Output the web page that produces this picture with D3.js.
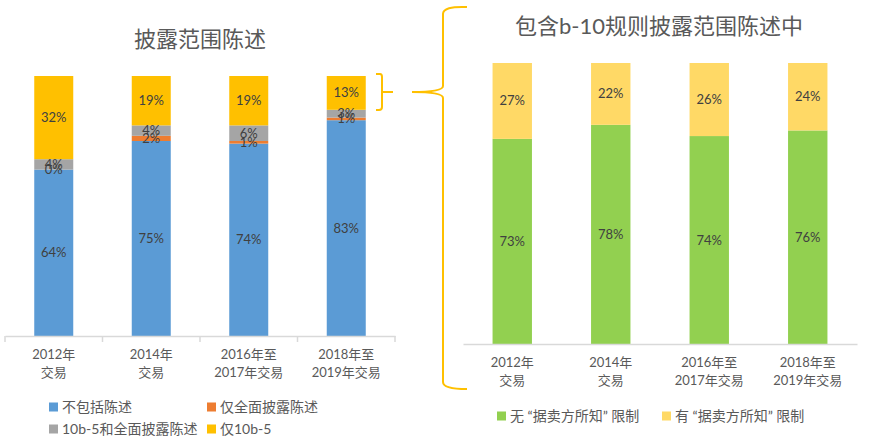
<!DOCTYPE html>
<html lang="zh">
<head>
<meta charset="UTF-8">
<title>披露范围陈述</title>
<script src="https://d3js.org/d3.v7.min.js"></script>
<style>
  body { margin: 0; background: #fff; }
  text { font-family: Lato, "Noto Sans CJK SC", sans-serif; }
</style>
</head>
<body>
<script>
const categories = ['2012年\n交易', '2014年\n交易', '2016年至\n2017年交易', '2018年至\n2019年交易'];

// left chart
const leftSeries = ['不包括陈述', '仅全面披露陈述', '10b-5和全面披露陈述', '仅10b-5'];
const noStatement = [64, 75, 74, 83];
const fullOnly = [0, 2, 1, 1];
const both = [4, 4, 6, 3];
const only10b5 = [32, 19, 19, 13];

// right chart
const rightSeries = ['无 “据卖方所知” 限制', '有 “据卖方所知” 限制'];
const noKnowledge = [73, 78, 74, 76];
const withKnowledge = [27, 22, 26, 24];

const width = 869, height = 444;
const svg = d3.select('body').append('svg').attr('width', width).attr('height', height);

const leftColors = ['#5B9BD5', '#ED7D31', '#A5A5A5', '#FFC000'];
const rightColors = ['#92D050', '#FFD966'];

function drawChart(opt) {
  const rows = categories.map((c, i) => {
    const r = { cat: c };
    opt.series.forEach((s, j) => r[s] = opt.values[j][i]);
    return r;
  });
  const x = d3.scaleBand().domain(categories).range(opt.xRange).paddingInner(0.6).paddingOuter(0.3);
  const y = d3.scaleLinear().domain([0, 100]).range(opt.yRange);
  const color = d3.scaleOrdinal(opt.series, opt.colors);
  const stacked = d3.stack().keys(opt.series)(rows);

  const g = svg.append('g');

  // title
  g.append('text')
    .attr('x', opt.titleX).attr('y', opt.titleY)
    .attr('text-anchor', 'middle')
    .style('font-size', '22px').style('fill', '#595959')
    .text(opt.title);

  // bars
  g.selectAll('g.layer')
    .data(stacked)
    .join('g').attr('class', 'layer')
    .style('fill', d => color(d.key))
    .selectAll('rect')
    .data(d => d)
    .join('rect')
      .attr('x', d => x(d.data.cat))
      .attr('width', x.bandwidth())
      .attr('y', d => y(d[1]))
      .attr('height', d => y(d[0]) - y(d[1]));

  // value labels
  g.selectAll('g.lab')
    .data(stacked)
    .join('g').attr('class', 'lab')
    .selectAll('text')
    .data(d => d)
    .join('text')
      .attr('x', d => x(d.data.cat) + x.bandwidth() / 2)
      .attr('y', d => (y(d[0]) + y(d[1])) / 2)
      .attr('dy', '0.35em')
      .attr('text-anchor', 'middle')
      .style('font-size', '13px').style('fill', '#404040')
      .text(d => (d[1] - d[0]) + '%');

  // axis
  const axis = g.append('g')
    .attr('transform', `translate(0,${opt.yRange[0]})`)
    .call(d3.axisBottom(x).tickSize(0).tickSizeOuter(0).tickPadding(10));
  axis.select('.domain').attr('stroke', '#d9d9d9').attr('stroke-width', 1.5);
  axis.selectAll('.tick text').each(function(d) {
    const t = d3.select(this);
    t.text(null).style('font-size', '13px').attr('fill', '#595959').attr('dy', null);
    d.split('\n').forEach((line, i) => {
      t.append('tspan').attr('x', 0).attr('dy', i ? '1.35em' : '1em').text(line);
    });
  });
  if (opt.separators) {
    const r0 = opt.xRange[0];
    axis.selectAll('line.sep')
      .data(d3.range(categories.length + 1))
      .join('line').attr('class', 'sep')
      .attr('x1', i => r0 + i * x.step()).attr('x2', i => r0 + i * x.step())
      .attr('y1', 0).attr('y2', 6)
      .attr('stroke', '#d9d9d9').attr('stroke-width', 1.5);
  }

  // legend
  const leg = g.selectAll('g.leg')
    .data(opt.series)
    .join('g').attr('class', 'leg')
    .attr('transform', (d, i) => `translate(${opt.legendPos[i][0]},${opt.legendPos[i][1]})`);
  leg.append('rect').attr('x', 0).attr('y', -4.5).attr('width', 9).attr('height', 9)
    .style('fill', d => color(d));
  leg.append('text').attr('x', 13).attr('dy', '0.36em')
    .style('font-size', '14px').style('fill', '#595959')
    .text(d => d);
}

drawChart({
  title: '披露范围陈述', titleX: 200, titleY: 47,
  series: leftSeries, values: [noStatement, fullOnly, both, only10b5], colors: leftColors,
  xRange: [5, 395], yRange: [336, 76], separators: true,
  legendPos: [[49, 407], [207, 407], [49, 429], [207, 429]]
});

drawChart({
  title: '包含b-10规则披露范围陈述中', titleX: 659, titleY: 34,
  series: rightSeries, values: [noKnowledge, withKnowledge], colors: rightColors,
  xRange: [463, 857], yRange: [344, 63], separators: false,
  legendPos: [[497, 416], [662, 416]]
});

// braces linking the two charts
const brace = svg.append('g').style('fill', 'none').style('stroke', '#FFC000').style('stroke-width', 2);
brace.append('path').attr('d', 'M376,74 L380,74 Q382,74 382,77 L382,107 Q382,110 379,110 L376,110 M382,92 L393,92');
brace.append('path').attr('d',
  'M467,7 Q443,6 443,14 L443,86 Q443,92 412,92 Q443,92 443,98 L443,382 Q443,389 467,389');
</script>
</body>
</html>
